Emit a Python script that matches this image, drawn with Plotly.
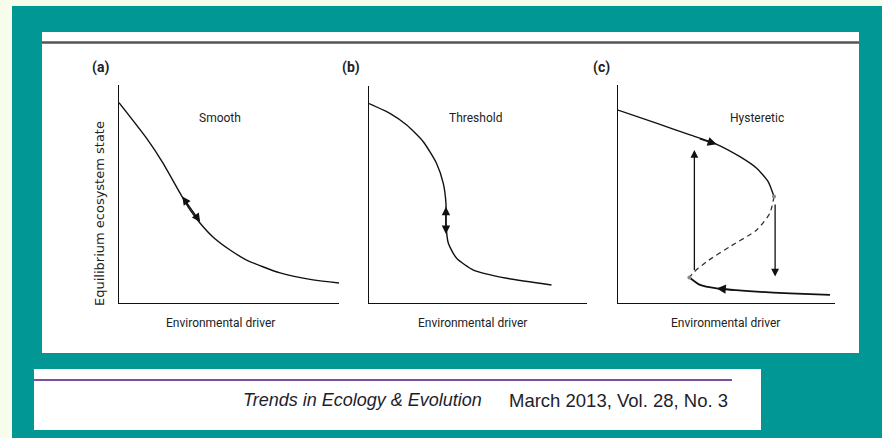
import plotly.graph_objects as go

W, H = 882, 438

# ---------------- data (axes 0..10) ----------------
smooth_x = [0.0, 1.25, 2.0, 2.77, 3.23, 3.68, 4.27, 5.05, 5.8, 7.32, 8.82, 10.0]
smooth_y = [9.19, 7.56, 6.42, 5.05, 4.27, 3.67, 3.03, 2.43, 1.97, 1.38, 1.06, 0.92]

threshold_x = [0.0, 0.96, 1.73, 2.49, 3.1, 3.41, 3.53, 3.53, 3.64, 4.02, 4.79, 6.32, 8.37]
threshold_y = [9.19, 8.74, 8.2, 7.43, 6.43, 5.5, 4.59, 3.67, 2.75, 2.06, 1.52, 1.14, 0.83]

hyst_upper_x = [0.0, 1.8, 3.32, 4.55, 5.62, 6.39, 6.92, 7.19]
hyst_upper_y = [8.85, 8.24, 7.71, 7.28, 6.71, 6.18, 5.57, 4.88]
hyst_middle_x = [7.19, 7.0, 6.39, 5.16, 4.09, 3.47, 3.29]
hyst_middle_y = [4.88, 4.12, 3.35, 2.59, 1.9, 1.39, 1.17]
hyst_lower_x = [3.29, 3.78, 4.55, 6.39, 7.93, 9.77]
hyst_lower_y = [1.17, 0.83, 0.67, 0.52, 0.44, 0.37]
fold_x = [7.19, 3.29]
fold_y = [4.88, 1.17]

panel_letters = ["(a)", "(b)", "(c)"]
panel_titles = ["Smooth", "Threshold", "Hysteretic"]
x_label = "Environmental driver"
y_label = "Equilibrium ecosystem state"
journal = "Trends in Ecology & Evolution"
issue = "March 2013, Vol. 28, No. 3"

# ---------------- layout helpers ----------------
def px(x):
    return x / W

def py(y):
    return 1 - y / H

TEAL = "#009794"
BG = "#f6fdeb"
PURPLE = "#7b4ea0"
FONT = "Roboto, sans-serif"

# axis pixel boxes: (left, right, top, bottom)
boxes = [(119, 339, 85, 303), (369, 587, 86, 303), (618, 835, 85, 303)]

fig = go.Figure()
layout_axes = {}
for i, (l, r, t, b) in enumerate(boxes):
    n = "" if i == 0 else str(i + 1)
    common = dict(range=[0, 10], showgrid=False, zeroline=False, showticklabels=False,
                  ticks="", showline=True, linecolor="#111", linewidth=1.4, fixedrange=True)
    layout_axes["xaxis" + n] = dict(domain=[px(l), px(r)], anchor="y" + n, **common)
    layout_axes["yaxis" + n] = dict(domain=[py(b), py(t)], anchor="x" + n, **common)

line = dict(color="#111", width=1.4, shape="spline", smoothing=0.6)
fig.add_trace(go.Scatter(x=smooth_x, y=smooth_y, mode="lines", line=line, xaxis="x", yaxis="y"))
fig.add_trace(go.Scatter(x=threshold_x, y=threshold_y, mode="lines", line=line, xaxis="x2", yaxis="y2"))
fig.add_trace(go.Scatter(x=hyst_upper_x, y=hyst_upper_y, mode="lines", line=line, xaxis="x3", yaxis="y3"))
fig.add_trace(go.Scatter(x=hyst_middle_x, y=hyst_middle_y, mode="lines",
                         line=dict(color="#333", width=1.3, dash="5px,4px", shape="spline", smoothing=0.6),
                         xaxis="x3", yaxis="y3"))
fig.add_trace(go.Scatter(x=hyst_lower_x, y=hyst_lower_y, mode="lines",
                         line=dict(color="#111", width=1.8, shape="spline", smoothing=0.6),
                         xaxis="x3", yaxis="y3"))
fig.add_trace(go.Scatter(x=fold_x, y=fold_y, mode="markers",
                         marker=dict(color="#888", size=4), xaxis="x3", yaxis="y3"))

shapes = [
    # teal frame
    dict(type="rect", xref="paper", yref="paper", x0=px(12), x1=1, y0=0, y1=py(6),
         fillcolor=TEAL, line=dict(width=0), layer="below"),
    # main white panel
    dict(type="rect", xref="paper", yref="paper", x0=px(42), x1=px(859), y0=py(353), y1=py(32),
         fillcolor="white", line=dict(width=0), layer="below"),
    dict(type="line", xref="paper", yref="paper", x0=px(42), x1=px(859), y0=py(42.5), y1=py(42.5),
         line=dict(color="#555", width=2.5), layer="below"),
    # bottom white strip
    dict(type="rect", xref="paper", yref="paper", x0=px(34), x1=px(761), y0=py(430), y1=py(369),
         fillcolor="white", line=dict(width=0), layer="below"),
    dict(type="line", xref="paper", yref="paper", x0=px(34), x1=px(732), y0=py(380), y1=py(380),
         line=dict(color=PURPLE, width=2), layer="below"),
]

ann = []
txt = dict(family=FONT, size=12, color="#222")
letter_x = [100, 351, 601]
title_x = [220, 475, 757]
xlab_x = [220, 472, 725]


def label(text, x, y, font, xanchor="center", angle=0):
    return dict(text=text, x=px(x), y=py(y), xref="paper", yref="paper", xanchor=xanchor,
                yanchor="middle", textangle=angle, showarrow=False, font=font)


for i in range(3):
    ann.append(label("<b>%s</b>" % panel_letters[i], letter_x[i], 67,
                     dict(family=FONT, size=14, color="#222")))
    ann.append(label(panel_titles[i], title_x[i], 118, txt))
    ann.append(label(x_label, xlab_x[i], 323, txt))
ann.append(label(y_label, 99, 214, dict(family="DejaVu Sans, sans-serif", size=13, color="#222"), angle=-90))

foot_i = dict(family="Liberation Sans, Arial, sans-serif", size=18, color="#1e1e2a")
foot_r = dict(family="Liberation Sans, Arial, sans-serif", size=18.5, color="#1e1e2a")
ann.append(label("<i>%s</i>" % journal, 484, 400, foot_i, xanchor="right"))
ann.append(label(issue, 507, 400, foot_r, xanchor="left"))


def arrow(xr, yr, x0, y0, x1, y1, both=False, size=1.2, width=1.4):
    return dict(text="", xref=xr, yref=yr, axref=xr, ayref=yr, x=x1, y=y1, ax=x0, ay=y0,
                showarrow=True, arrowhead=2, startarrowhead=2, arrowsize=size, startarrowsize=size,
                arrowwidth=width, arrowcolor="#111", arrowside="end+start" if both else "end",
                standoff=0, startstandoff=0)


# (a) double arrow along the smooth curve
ann.append(arrow("x", "y", 2.83, 4.95, 3.69, 3.72, both=True))
# (b) vertical double arrow at threshold
ann.append(arrow("x2", "y2", 3.53, 4.50, 3.53, 3.18, both=True))
# (c) direction arrows
ann.append(arrow("x3", "y3", 3.7, 7.55, 4.55, 7.28, size=1.3))
ann.append(arrow("x3", "y3", 5.4, 0.6, 4.55, 0.67, size=1.3))
ann.append(arrow("x3", "y3", 3.52, 1.44, 3.52, 7.02, width=1.3))
ann.append(arrow("x3", "y3", 7.24, 4.59, 7.24, 1.21, width=1.3))

fig.update_layout(
    width=W, height=H, margin=dict(l=0, r=0, t=0, b=0),
    paper_bgcolor=BG, plot_bgcolor="rgba(0,0,0,0)", showlegend=False,
    shapes=shapes, annotations=ann, **layout_axes,
)

fig.write_html(
    "out.html",
    config={"displayModeBar": False},
    post_script="document.body.style.margin='0';document.body.style.overflow='hidden';"
                "document.body.style.background='%s';" % BG,
)
